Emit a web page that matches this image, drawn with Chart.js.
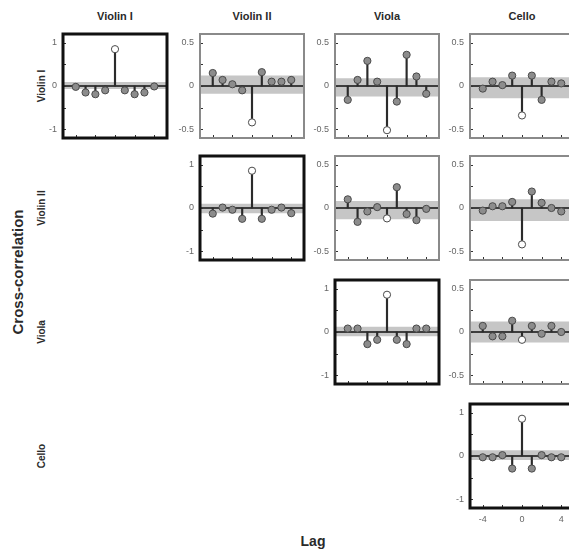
<!DOCTYPE html>
<html>
<head>
<meta charset="utf-8">
<script src="https://cdn.jsdelivr.net/npm/chart.js@4/dist/chart.umd.min.js"></script>
<style>
	body {margin: 0; background: #fff; width: 569px; height: 551px; overflow: hidden; position: relative; font-family: "Liberation Sans", Arial, sans-serif;}
	.panel {position: absolute;}
	.lbl {position: absolute; font-weight: bold; color: #2a2a2a; white-space: nowrap; transform: translate(-50%, -50%);}
	.rot {transform: translate(-50%, -50%) rotate(-90deg);}
</style>
</head>
<body>
<script>
// Data
var instruments = ['Violin I', 'Violin II', 'Viola', 'Cello'];
var lags        = [-4, -3, -2, -1, 0, 1, 2, 3, 4];
var xTickLabels = ['-4', '0', '4'];

var ccVlnI_VlnI    = [-0.02, -0.15, -0.19, -0.10, 0.85, -0.10, -0.19, -0.15, -0.01];
var ccVlnI_VlnII   = [0.15, 0.07, 0.02, -0.05, -0.42, 0.16, 0.05, 0.05, 0.07];
var ccVlnI_Viola   = [-0.16, 0.07, 0.29, 0.05, -0.51, -0.18, 0.36, 0.11, -0.09];
var ccVlnI_Cello   = [-0.03, 0.05, 0.01, 0.12, -0.34, 0.12, -0.16, 0.05, 0.03];
var ccVlnII_VlnII  = [-0.13, 0.01, -0.04, -0.25, 0.86, -0.25, -0.04, 0.01, -0.12];
var ccVlnII_Viola  = [0.10, -0.16, -0.04, 0.01, -0.12, 0.24, -0.07, -0.14, -0.01];
var ccVlnII_Cello  = [-0.03, 0.02, 0.02, 0.07, -0.42, 0.19, 0.06, 0.00, -0.04];
var ccViola_Viola  = [0.08, 0.08, -0.28, -0.18, 0.86, -0.18, -0.28, 0.08, 0.08];
var ccViola_Cello  = [0.07, -0.05, -0.05, 0.13, -0.09, 0.07, -0.02, 0.07, 0.00];
var ccCello_Cello  = [-0.03, -0.03, 0.02, -0.29, 0.86, -0.29, 0.02, -0.03, -0.03];

// confidence band per panel (same order as panels below)
var bandHi = [0.09, 0.12, 0.09, 0.10, 0.10, 0.08, 0.10, 0.12, 0.12, 0.13];
var bandLo = [-0.07, -0.09, -0.12, -0.14, -0.12, -0.13, -0.15, -0.10, -0.12, -0.09];

var panels = [
	{r: 0, c: 0, values: ccVlnI_VlnI},
	{r: 0, c: 1, values: ccVlnI_VlnII},
	{r: 0, c: 2, values: ccVlnI_Viola},
	{r: 0, c: 3, values: ccVlnI_Cello},
	{r: 1, c: 1, values: ccVlnII_VlnII},
	{r: 1, c: 2, values: ccVlnII_Viola},
	{r: 1, c: 3, values: ccVlnII_Cello},
	{r: 2, c: 2, values: ccViola_Viola},
	{r: 2, c: 3, values: ccViola_Cello},
	{r: 3, c: 3, values: ccCello_Cello}
];

var colX = [63, 200, 335, 470];
var rowY = [34, 156, 280, 404];
var size = 104;
var xMin = -5.3, xMax = 5.3;

// box round the plot area + short inward ticks
var frame = {
	id: 'frame',
	afterDraw: function(chart, args, opts) {
		var ctx = chart.ctx, a = chart.chartArea;
		var ys = chart.scales.y, xs = chart.scales.x;
		ctx.save();
		ctx.strokeStyle = '#333';
		ctx.lineWidth = 1;
		ys.ticks.forEach(function(t) {
			var py = Math.round(ys.getPixelForValue(t.value)) + 0.5;
			ctx.beginPath(); ctx.moveTo(a.left, py); ctx.lineTo(a.left + 3, py); ctx.stroke();
		});
		xs.ticks.forEach(function(t) {
			var px = Math.round(xs.getPixelForValue(t.value)) + 0.5;
			ctx.beginPath(); ctx.moveTo(px, a.bottom); ctx.lineTo(px, a.bottom - 3); ctx.stroke();
		});
		ctx.strokeStyle = opts.color;
		ctx.lineWidth   = opts.width;
		ctx.strokeRect(a.left, a.top, a.right - a.left, a.bottom - a.top);
		ctx.restore();
	}
};

function label(text, x, y, size, rotated) {
	var d = document.createElement('div');
	d.className = 'lbl' + (rotated ? ' rot' : '');
	d.style.left = x + 'px';
	d.style.top = y + 'px';
	d.style.fontSize = size + 'px';
	d.textContent = text;
	document.body.appendChild(d);
}

instruments.forEach(function(name, i) {
	label(name, colX[i] + size / 2, 16, 11);
	label(name, 41, rowY[i] + size / 2, 10, true);
});
label('Cross-correlation', 17, 272, 15, true);
label('Lag', 313, 541, 14);

panels.forEach(function(p, i) {
	var diag   = p.r === p.c;
	var bottom = p.r === 3 && p.c === 3;
	var lim    = diag ? 1.2 : 0.6;

	var wrap = document.createElement('div');
	wrap.className = 'panel';
	wrap.style.left = (colX[p.c] - 30) + 'px';
	wrap.style.top  = (rowY[p.r] - 6) + 'px';
	var cv = document.createElement('canvas');
	cv.width  = 30 + size + 6;
	cv.height = 6 + size + (bottom ? 20 : 6);
	wrap.appendChild(cv);
	document.body.appendChild(wrap);

	var pts = lags.map(function(l, k) {return {x: l, y: p.values[k]};});

	new Chart(cv.getContext('2d'), {
		type: 'bar',
		data: {
			datasets: [
				{type: 'scatter', data: pts, order: 0,
					pointRadius: 3.6, borderWidth: 1, pointBorderColor: '#4a4a4a',
					pointBackgroundColor: lags.map(function(l) {return l === 0 ? '#fff' : '#8c8c8c';})},
				{type: 'bar', data: pts, order: 1, backgroundColor: '#2b2b2b', barThickness: 1.5},
				{type: 'line', data: [{x: xMin, y: 0}, {x: xMax, y: 0}], order: 2,
					borderColor: '#111', borderWidth: 1.6, pointRadius: 0, fill: false},
				{type: 'line', data: [{x: xMin, y: bandHi[i]}, {x: xMax, y: bandHi[i]}], order: 3,
					borderWidth: 0, pointRadius: 0, backgroundColor: '#c6c6c6', fill: {value: bandLo[i]}}
			]
		},
		options: {
			responsive: false,
			animation: false,
			events: [],
			layout: {padding: {top: 6, right: 6, left: 0, bottom: bottom ? 0 : 6}},
			plugins: {
				legend: {display: false},
				tooltip: {enabled: false},
				frame: {color: diag ? '#111' : '#8a8a8a', width: diag ? 3 : 2}
			},
			scales: {
				x: {
					type: 'linear', min: xMin, max: xMax, offset: false,
					grid: {display: false, drawTicks: false}, border: {display: false},
					afterFit: function(s) {
						s.height = bottom ? 20 : 0;
						s.paddingLeft = 0; s.paddingRight = 0;
					},
					ticks: {
						display: bottom, stepSize: 2, includeBounds: false, autoSkip: false,
						maxRotation: 0, padding: 6, color: '#666',
						font: {size: 9, family: '"Liberation Sans", Arial, sans-serif'},
						callback: function(v) {return xTickLabels.indexOf(String(v)) >= 0 ? String(v) : '';}
					}
				},
				y: {
					min: -lim, max: lim,
					grid: {display: false, drawTicks: false}, border: {display: false},
					afterFit: function(s) {
						s.width = 30;
						s.paddingTop = 0; s.paddingBottom = 0;
					},
					ticks: {
						stepSize: diag ? 0.5 : 0.25, includeBounds: false, autoSkip: false,
						padding: 6, color: '#666',
						font: {size: 9, family: '"Liberation Sans", Arial, sans-serif'},
						callback: function(v) {
							var major = diag ? 1 : 0.5;
							var q = v / major;
							if (Math.abs(q - Math.round(q)) > 1e-6) {return '';}
							return String(Math.round(q) * major);
						}
					}
				}
			}
		},
		plugins: [frame]
	});
});
</script>
</body>
</html>
